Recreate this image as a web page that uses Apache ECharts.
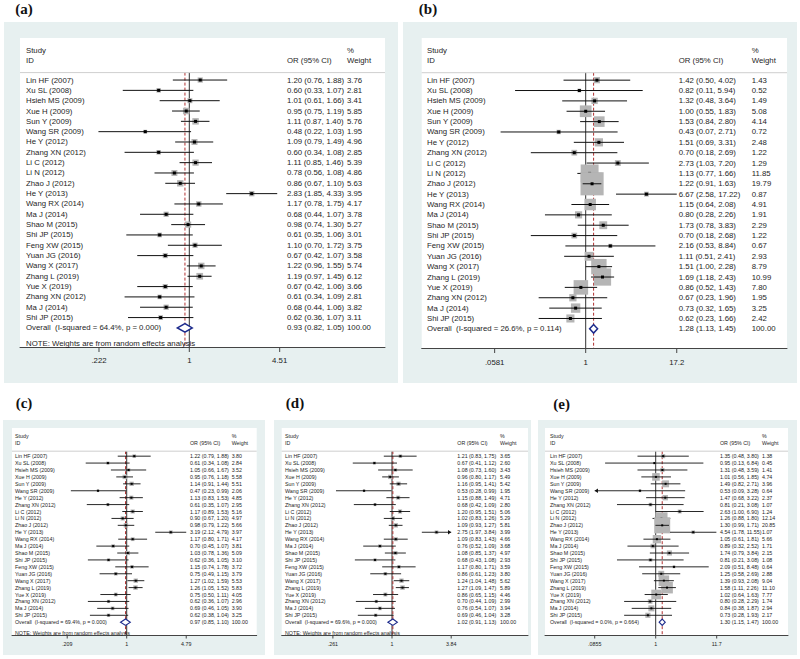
<!DOCTYPE html>
<html><head><meta charset="utf-8">
<script src="https://cdn.jsdelivr.net/npm/echarts@6/dist/echarts.min.js"></script>
<style>html,body{margin:0;padding:0;background:#fff}#c{width:800px;height:659px}</style>
</head><body><div id="c"></div>
<script>
// ---------- DATA ----------
const studies = ["Lin HF (2007)","Xu SL (2008)","Hsieh MS (2009)","Xue H (2009)","Sun Y (2009)","Wang SR (2009)","He Y (2012)","Zhang XN (2012)","Li C (2012)","Li N (2012)","Zhao J (2012)","He Y (2013)","Wang RX (2014)","Ma J (2014)","Shao M (2015)","Shi JP (2015)","Feng XW (2015)","Yuan JG (2016)","Wang X (2017)","Zhang L (2019)","Yue X (2019)","Zhang XN (2012)","Ma J (2014)","Shi JP (2015)"];

const orA = [1.20,0.60,1.01,0.95,1.11,0.48,1.09,0.60,1.11,0.78,0.86,2.83,1.17,0.68,0.98,0.61,1.10,0.67,1.22,1.19,0.67,0.61,0.68,0.62];
const loA = [0.76,0.33,0.61,0.75,0.87,0.22,0.79,0.34,0.85,0.56,0.67,1.85,0.78,0.44,0.74,0.35,0.70,0.42,0.96,0.97,0.42,0.34,0.44,0.36];
const hiA = [1.88,1.07,1.66,1.19,1.40,1.03,1.49,1.08,1.46,1.08,1.10,4.33,1.75,1.07,1.30,1.06,1.72,1.07,1.55,1.45,1.06,1.09,1.06,1.07];
const wA  = [3.76,2.81,3.41,5.85,5.76,1.95,4.96,2.85,5.39,4.86,5.63,3.95,4.17,3.78,5.27,3.01,3.75,3.58,5.74,6.12,3.66,2.81,3.82,3.11];
const overallA = [0.93,0.82,1.05];
const hetA = "Overall  (I-squared = 64.4%, p = 0.000)";
const ticksA = [0.222,1,4.51];
const tickLabelsA = [".222","1","4.51"];

const orB = [1.42,0.82,1.32,1.00,1.53,0.43,1.51,0.70,2.73,1.13,1.22,6.67,1.15,0.80,1.73,0.70,2.16,1.11,1.51,1.69,0.86,0.67,0.73,0.62];
const loB = [0.50,0.11,0.48,0.55,0.84,0.07,0.69,0.18,1.03,0.77,0.91,2.58,0.64,0.28,0.78,0.18,0.53,0.51,1.00,1.18,0.52,0.23,0.32,0.23];
const hiB = [4.02,5.94,3.64,1.83,2.80,2.71,3.31,2.69,7.20,1.66,1.63,17.22,2.08,2.26,3.83,2.68,8.84,2.41,2.28,2.43,1.43,1.96,1.65,1.66];
const wB  = [1.43,0.52,1.49,5.08,4.14,0.72,2.48,1.22,1.29,11.85,19.79,0.87,4.91,1.91,2.29,1.22,0.67,2.93,8.79,10.99,7.80,1.95,3.25,2.42];
const overallB = [1.28,1.13,1.45];
const hetB = "Overall  (I-squared = 26.6%, p = 0.114)";
const ticksB = [0.0581,1,17.2];
const tickLabelsB = [".0581","1","17.2"];

const orC = [1.22,0.61,1.05,0.95,1.14,0.47,1.13,0.61,1.17,0.90,0.98,3.19,1.17,0.70,1.03,0.62,1.15,0.75,1.27,1.26,0.75,0.62,0.69,0.62];
const loC = [0.79,0.34,0.66,0.76,0.91,0.23,0.83,0.35,0.89,0.67,0.79,2.12,0.80,0.45,0.78,0.36,0.74,0.49,1.02,1.05,0.50,0.36,0.46,0.38];
const hiC = [1.88,1.08,1.67,1.18,1.44,0.99,1.53,1.07,1.53,1.20,1.22,4.79,1.71,1.07,1.36,1.05,1.78,1.15,1.59,1.52,1.11,1.07,1.05,1.04];
const wC  = [3.80,2.84,3.52,5.58,5.51,2.06,4.85,2.95,5.16,4.97,5.66,3.97,4.17,3.81,5.09,3.10,3.72,3.79,5.53,5.83,4.05,2.96,3.90,3.25];
const overallC = [0.97,0.85,1.10];
const hetC = "Overall  (I-squared = 69.4%, p = 0.000)";
const ticksC = [0.209,1,4.79];
const tickLabelsC = [".209","1","4.79"];

const orD = [1.21,0.67,1.08,0.96,1.16,0.53,1.15,0.68,1.20,1.02,1.09,2.75,1.09,0.76,1.08,0.68,1.17,0.86,1.24,1.27,0.86,0.70,0.76,0.69];
const loD = [0.83,0.41,0.73,0.80,0.95,0.28,0.88,0.42,0.95,0.83,0.93,1.97,0.83,0.52,0.85,0.43,0.80,0.61,1.04,1.09,0.65,0.44,0.54,0.46];
const hiD = [1.75,1.12,1.60,1.17,1.41,0.99,1.49,1.09,1.51,1.26,1.27,3.84,1.43,1.09,1.37,1.08,1.71,1.23,1.48,1.47,1.15,1.09,1.07,1.04];
const wD  = [3.65,2.60,3.43,5.49,5.42,1.95,4.71,2.80,5.06,5.29,5.81,3.99,4.66,3.68,4.97,2.93,3.59,3.80,5.62,5.89,4.46,2.99,3.94,3.28];
const overallD = [1.02,0.91,1.13];
const hetD = "Overall  (I-squared = 69.6%, p = 0.000)";
const ticksD = [0.261,1,3.84];
const tickLabelsD = [".261","1","3.84"];
const arrowsD = [[11,'hi']];

const orE = [1.35,0.95,1.31,1.01,1.49,0.53,1.47,0.81,2.63,1.26,1.30,4.54,1.05,0.89,1.74,0.81,2.09,1.25,1.39,1.58,1.02,0.80,0.84,0.73];
const loE = [0.48,0.13,0.48,0.56,0.82,0.09,0.68,0.21,1.00,0.88,0.99,1.78,0.61,0.32,0.79,0.21,0.51,0.58,0.93,1.11,0.64,0.28,0.38,0.28];
const hiE = [3.80,6.84,3.59,1.85,2.71,3.28,3.22,3.08,6.90,1.80,1.71,11.55,1.81,2.52,3.84,3.08,8.48,2.69,2.08,2.26,1.63,2.29,1.87,1.93];
const wE  = [1.38,0.45,1.41,4.74,3.96,0.64,2.37,1.07,1.24,12.14,20.85,1.07,5.66,1.71,2.15,1.08,0.64,2.88,9.04,11.10,7.77,1.74,2.94,2.17];
const overallE = [1.30,1.15,1.47];
const hetE = "Overall  (I-squared = 0.0%, p = 0.664)";
const ticksE = [0.0855,1,11.7];
const tickLabelsE = [".0855","1","11.7"];
const arrowsE = [[5,'lo']];

const noteText = "NOTE: Weights are from random effects analysis";

// ---------- LAYOUT ----------
const ROW_TOP = -4.07, ROW_AXIS = 25.85, ROW_HDR1 = -2.9, ROW_HDR2 = -1.9, ROW_RULE = -0.72, ROW_OVERALL = 24, ROW_NOTE = 25.5;
const FONT = '"Liberation Sans", Arial, sans-serif';
const BG = '#e7f0f0';

const panels = [
  {label:'(a)', or:orA, lo:loA, hi:hiA, w:wA, overall:overallA, het:hetA, ticks:ticksA, tickLabels:tickLabelsA, note:true, arrows:[],
   L:{bg:[4,22,394,361], box:[20,38,385,347], x1:189.3, k:60, cols:[6,267,327], fs:7.8, sq:2.7, dot:3, lw:1, tickLen:5, labOff:13, dia:4.3, lab:[24,9]}},
  {label:'(b)', or:orB, lo:loB, hi:hiB, w:wB, overall:overallB, het:hetB, ticks:ticksB, tickLabels:tickLabelsB, note:false, arrows:[],
   L:{bg:[403,22,394,361], box:[421.7,38,787,348], x1:585.7, k:32, cols:[5.3,257,330], fs:7.8, sq:5.2, dot:3, lw:1, tickLen:5, labOff:14, dia:4.3, lab:[428,9]}},
  {label:'(c)', or:orC, lo:loC, hi:hiC, w:wC, overall:overallC, het:hetC, ticks:ticksC, tickLabels:tickLabelsC, note:true, arrows:[],
   L:{bg:[3,420,262,235], box:[12,428,256.7,635], x1:126.7, k:38, cols:[3,178,219.7], fs:5.3, sq:1.85, dot:2, lw:0.9, tickLen:3.5, labOff:9, dia:3.2, lab:[24,402.5]}},
  {label:'(d)', or:orD, lo:loD, hi:hiD, w:wD, overall:overallD, het:hetD, ticks:ticksD, tickLabels:tickLabelsD, note:true, arrows:arrowsD,
   L:{bg:[274,420,257,235], box:[281.7,428,528,635], x1:392, k:44, cols:[3.3,175.6,218.3], fs:5.3, sq:1.85, dot:2, lw:0.9, tickLen:3.5, labOff:9, dia:3.2, lab:[295,402.5]}},
  {label:'(e)', or:orE, lo:loE, hi:hiE, w:wE, overall:overallE, het:hetE, ticks:ticksE, tickLabels:tickLabelsE, note:false, arrows:arrowsE,
   L:{bg:[538,420,259,235], box:[545,428,788,635], x1:655.7, k:24.8, cols:[5,175,217], fs:5.3, sq:3.5, dot:2, lw:0.9, tickLen:3.5, labOff:9, dia:3.2, lab:[561.7,403.5]}}
];

const fmt = v => v.toFixed(2);
const option = {animation:false, backgroundColor:'#fff', grid:[], xAxis:[], yAxis:[], series:[], graphic:[]};

panels.forEach((p, pi) => {
  const L = p.L;
  const [bx0, by0, bx1, by1] = L.box;
  const W = bx1 - bx0;
  const font = L.fs + 'px ' + FONT;
  option.graphic.push({type:'rect', z:-10, shape:{x:L.bg[0], y:L.bg[1], width:L.bg[2], height:L.bg[3]}, style:{fill:BG}});
  option.graphic.push({type:'text', x:L.lab[0], y:L.lab[1], style:{text:p.label, font:'bold 15px "Liberation Serif", "Times New Roman", serif', fill:'#111', align:'center', verticalAlign:'middle'}});
  option.grid.push({left:bx0, top:by0, width:W, height:by1-by0, show:true, backgroundColor:'#fff', borderWidth:0, containLabel:false});
  const xl = option.xAxis.length;
  option.xAxis.push({type:'log', logBase:10, gridIndex:pi, min:Math.exp((bx0-L.x1)/L.k), max:Math.exp((bx1-L.x1)/L.k),
    axisLine:{show:true, onZero:false, lineStyle:{color:'#444', width:1}}, axisTick:{show:false}, axisLabel:{show:false}, splitLine:{show:false}});
  option.xAxis.push({type:'value', gridIndex:pi, min:0, max:W, show:false, axisLine:{onZero:false}, splitLine:{show:false}});
  option.yAxis.push({type:'value', gridIndex:pi, inverse:true, min:ROW_TOP, max:ROW_AXIS, show:false, axisLine:{onZero:false}, splitLine:{show:false}});
  const xLog = xl, xLin = xl+1, yIdx = pi;

  // reference lines (null and overall)
  option.series.push({type:'custom', xAxisIndex:xLog, yAxisIndex:yIdx, z:1, silent:true,
    data:[[1, ROW_RULE],[p.overall[0], ROW_RULE]],
    renderItem:(params, api) => {
      const t = api.coord([api.value(0), api.value(1)]);
      const bottom = params.coordSys.y + params.coordSys.height;
      const dashed = params.dataIndex === 1;
      return {type:'line', shape:{x1:t[0], y1:t[1], x2:t[0], y2:bottom},
        style: dashed ? {stroke:'#b03030', lineWidth:1, lineDash:[3,2]} : {stroke:'#333', lineWidth:1}};
    }});
  // header rule
  option.series.push({type:'custom', xAxisIndex:xLin, yAxisIndex:yIdx, z:1, silent:true,
    data:[[0, ROW_RULE],[W, ROW_RULE]],
    renderItem:(params, api) => {
      if (params.dataIndex !== 0) return null;
      const a = api.coord([0, ROW_RULE]), b = api.coord([W, ROW_RULE]);
      return {type:'line', shape:{x1:a[0], y1:a[1], x2:b[0], y2:b[1]}, style:{stroke:'#cfcfcf', lineWidth:1}};
    }});
  // study estimates
  const arrowMap = {};
  p.arrows.forEach(a => { arrowMap[a[0]] = a[1]; });
  option.series.push({type:'custom', xAxisIndex:xLog, yAxisIndex:yIdx, z:3, silent:true,
    encode:{x:0, y:4},
    data:p.or.map((v,i) => [v, p.lo[i], p.hi[i], p.w[i], i]),
    renderItem:(params, api) => {
      const y = api.value(4);
      const c = api.coord([api.value(0), y]);
      let l = api.coord([api.value(1), y]);
      let h = api.coord([api.value(2), y]);
      const side = arrowMap[params.dataIndex];
      if (side === 'lo') l = api.coord([p.ticks[0], y]);
      if (side === 'hi') h = api.coord([p.ticks[p.ticks.length-1], y]);
      const s = L.sq * Math.sqrt(api.value(3));
      const ch = [
        {type:'rect', shape:{x:c[0]-s/2, y:c[1]-s/2, width:s, height:s}, style:{fill:'#b5b5b5'}},
        {type:'line', shape:{x1:l[0], y1:l[1], x2:h[0], y2:h[1]}, style:{stroke:'#111', lineWidth:L.lw}},
        {type:'rect', shape:{x:c[0]-L.dot/2, y:c[1]-L.dot/2, width:L.dot, height:L.dot}, style:{fill:'#000'}}
      ];
      const ah = L.dot * 1.6, aw = L.dot * 1.1;
      if (side === 'hi') ch.push({type:'polygon', shape:{points:[[h[0],h[1]],[h[0]-ah,h[1]-aw],[h[0]-ah,h[1]+aw]]}, style:{fill:'#111'}});
      if (side === 'lo') ch.push({type:'polygon', shape:{points:[[l[0],l[1]],[l[0]+ah,l[1]-aw],[l[0]+ah,l[1]+aw]]}, style:{fill:'#111'}});
      return {type:'group', children:ch};
    }});
  // overall diamond
  option.series.push({type:'custom', xAxisIndex:xLog, yAxisIndex:yIdx, z:4, silent:true,
    encode:{x:0, y:3},
    data:[[p.overall[0], p.overall[1], p.overall[2], ROW_OVERALL]],
    renderItem:(params, api) => {
      const y = api.value(3);
      const c = api.coord([api.value(0), y]), l = api.coord([api.value(1), y]), h = api.coord([api.value(2), y]);
      return {type:'polygon', shape:{points:[[l[0],c[1]],[c[0],c[1]-L.dia],[h[0],c[1]],[c[0],c[1]+L.dia]]},
        style:{fill:'#fff', stroke:'#1c2a8c', lineWidth: L.fs > 7 ? 1.5 : 1.1}};
    }});
  // axis ticks and tick labels
  option.series.push({type:'custom', xAxisIndex:xLog, yAxisIndex:yIdx, z:4, silent:true,
    data:p.ticks.map(t => [t, ROW_AXIS]),
    renderItem:(params, api) => {
      const pt = api.coord([api.value(0), api.value(1)]);
      const bottom = params.coordSys.y + params.coordSys.height;
      return {type:'group', children:[
        {type:'line', shape:{x1:pt[0], y1:bottom, x2:pt[0], y2:bottom+L.tickLen}, style:{stroke:'#444', lineWidth:1}},
        {type:'text', x:pt[0], y:bottom+L.labOff, style:{text:p.tickLabels[params.dataIndex], font:font, fill:'#222', align:'center', verticalAlign:'middle'}}
      ]};
    }});
  // text columns
  const [cS, cO, cW] = L.cols;
  const texts = [
    [cS, ROW_HDR1, 'Study'], [cS, ROW_HDR2, 'ID'], [cO, ROW_HDR2, 'OR (95% CI)'], [cW, ROW_HDR1, '%'], [cW, ROW_HDR2, 'Weight']
  ];
  studies.forEach((s, i) => {
    texts.push([cS, i, s]);
    texts.push([cO, i, fmt(p.or[i]) + ' (' + fmt(p.lo[i]) + ', ' + fmt(p.hi[i]) + ')']);
    texts.push([cW, i, fmt(p.w[i])]);
  });
  texts.push([cS, ROW_OVERALL, p.het]);
  texts.push([cO, ROW_OVERALL, fmt(p.overall[0]) + ' (' + fmt(p.overall[1]) + ', ' + fmt(p.overall[2]) + ')']);
  texts.push([cW, ROW_OVERALL, '100.00']);
  if (p.note) texts.push([cS, ROW_NOTE, noteText]);
  option.series.push({type:'custom', xAxisIndex:xLin, yAxisIndex:yIdx, z:5, silent:true,
    data:texts.map(t => [t[0], t[1]]),
    renderItem:(params, api) => {
      const pt = api.coord([api.value(0), api.value(1)]);
      return {type:'text', x:pt[0], y:pt[1], style:{text:texts[params.dataIndex][2], font:font, fill:'#1e1e1e', align:'left', verticalAlign:'middle'}};
    }});
});

const chart = echarts.init(document.getElementById('c'), null, {renderer:'svg', width:800, height:659});
chart.setOption(option);
</script>
</body></html>
